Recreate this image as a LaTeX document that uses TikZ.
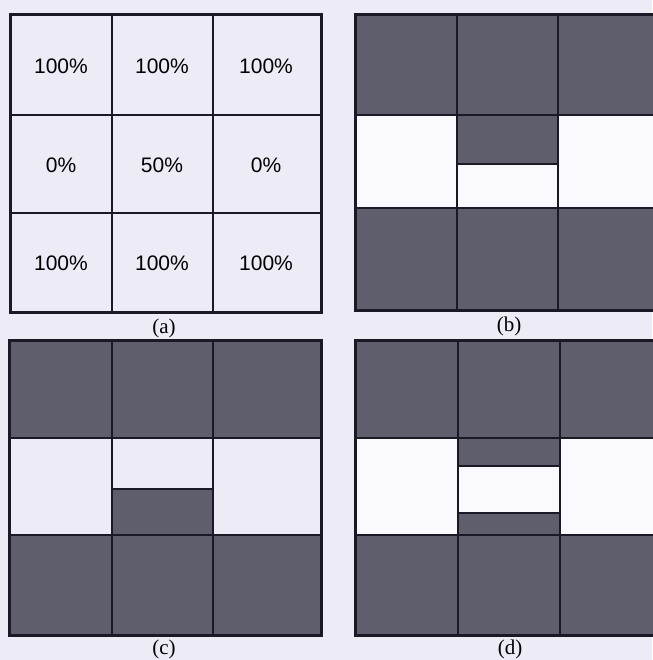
\documentclass[tikz,border=0pt]{standalone}
\usepackage{fontspec}
\setmainfont{Liberation Serif}
\newfontfamily\cellfont{Liberation Sans}
\definecolor{paper}{HTML}{ECEBF6}
\definecolor{cellgray}{HTML}{5E5E6C}
\definecolor{ink}{HTML}{1A1A26}
\definecolor{blank}{HTML}{F9F9FE}
\tikzset{
  grid line/.style={draw=ink, line width=1.3pt},
  frame line/.style={draw=ink, line width=3pt},
  pct/.style={font=\cellfont\fontsize{21}{21}\selectfont, text=black},
  caption/.style={font=\fontsize{21}{21}\selectfont, text=black}
}

\begin{document}
\begin{tikzpicture}[x=1pt,y=-1pt]
    \useasboundingbox[fill=paper] (0,0) rectangle (652,660);

    % (a) percentages
    \draw[grid line] (112,15) -- (112,312);
    \draw[grid line] (213,15) -- (213,312);
    \draw[grid line] (10,115) -- (321,115);
    \draw[grid line] (10,213) -- (321,213);
    \draw[frame line] (10,15) rectangle (321,312);
    \node[pct] (a11) at (61,66) {100\%};
    \node[pct] (a12) at (162,66) {100\%};
    \node[pct] (a13) at (266,66) {100\%};
    \node[pct] (a21) at (61,165) {0\%};
    \node[pct] (a22) at (162,165) {50\%};
    \node[pct] (a23) at (266,165) {0\%};
    \node[pct] (a31) at (61,263) {100\%};
    \node[pct] (a32) at (162,263) {100\%};
    \node[pct] (a33) at (266,263) {100\%};
    \node[caption] (capa) at (164,328) {(a)};

    % (b) upper half of centre cell
    \fill[cellgray] (355,15) rectangle (655,115);
    \fill[cellgray] (355,208) rectangle (655,310);
    \fill[blank] (355,115) rectangle (655,208);
    \fill[cellgray] (457,115) rectangle (558,164);
    \draw[grid line] (457,15) -- (457,310);
    \draw[grid line] (558,15) -- (558,310);
    \draw[grid line] (355,115) -- (655,115);
    \draw[grid line] (355,208) -- (655,208);
    \draw[grid line] (457,164) -- (558,164);
    \draw[frame line] (655,15) -- (355,15) -- (355,310) -- (655,310);
    \node[caption] (capb) at (509,326) {(b)};

    % (c) lower half of centre cell
    \fill[cellgray] (9,340) rectangle (321,438);
    \fill[cellgray] (9,535) rectangle (321,635);
    \fill[cellgray] (112,489) rectangle (213,535);
    \draw[grid line] (112,340) -- (112,635);
    \draw[grid line] (213,340) -- (213,635);
    \draw[grid line] (9,438) -- (321,438);
    \draw[grid line] (9,535) -- (321,535);
    \draw[grid line] (112,489) -- (213,489);
    \draw[frame line] (9,340) rectangle (321,635);
    \node[caption] (capc) at (164,649) {(c)};

    % (d) middle band of centre cell
    \fill[cellgray] (355,340) rectangle (655,438);
    \fill[cellgray] (355,535) rectangle (655,635);
    \fill[blank] (355,438) rectangle (655,535);
    \fill[cellgray] (458,438) rectangle (560,535);
    \fill[blank] (458,466) rectangle (560,513);
    \draw[grid line] (458,340) -- (458,635);
    \draw[grid line] (560,340) -- (560,635);
    \draw[grid line] (355,438) -- (655,438);
    \draw[grid line] (355,535) -- (655,535);
    \draw[grid line] (458,466) rectangle (560,513);
    \draw[frame line] (655,340) -- (355,340) -- (355,635) -- (655,635);
    \node[caption] (capd) at (510,649) {(d)};
\end{tikzpicture}
\end{document}
